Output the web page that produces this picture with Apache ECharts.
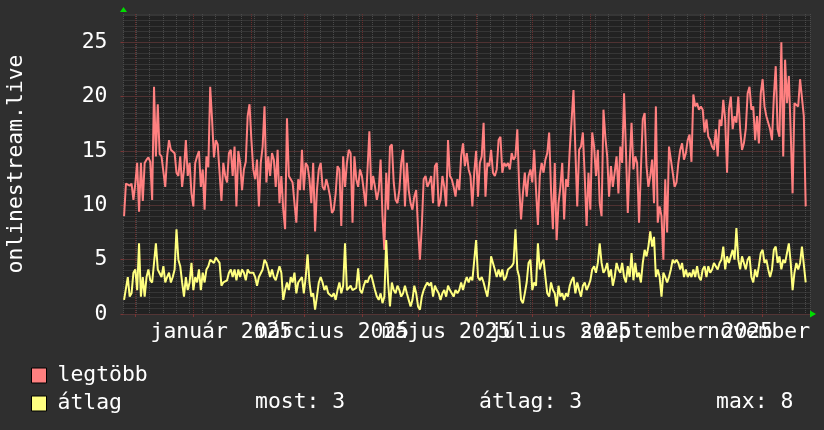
<!DOCTYPE html>
<html>
<head>
<meta charset="utf-8">
<script src="https://cdn.jsdelivr.net/npm/echarts@6/dist/echarts.min.js"></script>
<style>
html,body{margin:0;padding:0;background:#2f2f2f;}
#chart{width:824px;height:430px;}
</style>
</head>
<body>
<div id="chart"></div>
<script>
// napi értékek, 0. nap = 2024-11-25 (hétfő)
const legtobb = [
  9.0,12.0,12.0,11.8,12.0,10.5,12.0,13.9,9.4,13.9,10.4,13.9,14.2,14.4,14.0,10.5,20.9,14.5,19.3,14.7,
  14.5,14.5,11.7,14.5,16.0,15.1,15.1,14.8,13.0,12.7,14.5,11.7,13.3,16.0,12.7,13.9,11.1,
  9.9,13.9,14.5,15.0,11.7,13.3,9.6,14.5,13.5,20.9,17.9,14.4,16.0,15.6,15.7,10.4,13.9,12.7,12.1,14.8,
  15.1,12.7,15.4,9.9,15.0,13.9,11.4,13.3,14.0,18.2,19.3,16.0,13.3,12.4,14.2,9.9,13.9,15.4,19.1,12.1,
  14.5,12.7,14.8,14.2,11.7,15.1,10.2,12.7,9.6,7.8,18.0,12.7,12.4,12.1,10.2,8.4,12.4,11.4,15.1,11.4,
  13.9,13.6,12.4,10.2,13.9,7.6,11.4,13.3,13.9,11.7,11.4,12.4,11.7,10.8,9.3,9.6,11.1,13.6,13.3,8.1,
  14.5,11.7,13.9,15.1,14.8,8.4,14.5,12.4,11.7,13.3,12.7,11.4,9.9,13.3,16.8,11.4,12.7,11.7,10.5,11.4,
  14.2,9.0,5.9,13.0,9.6,15.4,15.6,12.1,10.5,10.2,11.4,13.9,15.1,9.9,13.9,11.4,10.2,9.6,10.8,11.4,
  7.8,5.0,8.1,12.4,12.7,11.7,12.1,12.7,10.2,13.6,13.9,9.9,10.5,12.7,11.7,9.9,16.0,12.7,12.4,11.7,
  10.8,12.4,11.4,14.5,15.7,13.6,
  14.8,13.3,12.7,9.9,13.0,15.0,10.8,13.9,14.5,17.6,10.8,13.9,13.6,15.1,13.0,12.7,13.3,16.0,16.3,13.0,
  13.9,13.6,13.9,13.3,14.8,14.2,14.5,17.0,11.7,8.7,11.1,13.0,10.8,12.7,13.3,12.1,15.1,11.4,8.2,12.7,
  13.9,13.0,14.2,14.8,16.7,11.4,7.8,13.9,6.8,10.2,11.7,13.9,8.7,12.4,11.7,15.1,15.1,20.6,15.1,9.9,
  15.1,15.4,16.7,12.7,8.1,13.0,9.6,16.7,15.4,12.7,15.1,10.2,9.0,18.8,16.3,14.5,10.8,13.6,11.7,13.0,
  14.5,11.1,15.4,13.9,20.3,15.1,9.3,13.9,17.6,13.3,14.5,13.9,8.4,13.3,17.9,18.5,13.6,11.7,12.7,14.2,
  10.2,19.1,8.4,9.9,9.0,5.0,12.4,7.5,15.4,14.2,13.0,11.7,12.1,13.9,15.1,15.7,14.2,14.8,16.0,16.5,
  14.0,20.2,19.1,19.4,18.8,19.1,18.8,16.7,17.9,16.3,16.0,15.4,15.1,17.0,14.5,17.9,17.3,19.7,17.9,13.0,
  18.8,20.0,17.0,18.2,17.6,20.0,17.0,15.1,15.7,17.0,20.3,20.9,18.8,19.1,16.0,18.2,15.7,20.3,21.6,19.1,
  18.2,17.6,17.0,16.0,20.0,22.8,17.0,16.3,25.0,14.5,23.4,19.4,21.9,16.7,11.1,19.4,19.4,19.1,21.6,21.6,
  18.2,9.9
];
const atlag = [
  1.3,1.3,3.4,1.6,1.9,3.8,4.1,2.2,6.5,1.6,3.4,1.6,3.4,4.1,3.1,2.9,4.7,6.5,4.1,4.1,
  3.4,4.4,2.9,3.4,3.8,2.9,3.4,4.1,7.8,5.0,4.4,2.9,1.6,3.4,2.2,2.9,4.7,
  2.2,3.4,2.9,4.1,2.2,3.8,2.9,4.1,4.4,5.0,5.0,4.7,5.2,5.1,4.7,2.6,2.9,2.9,3.1,3.8,
  4.1,3.4,4.1,3.1,4.1,3.4,4.1,3.8,3.1,4.1,3.8,3.8,3.8,3.4,2.6,3.4,3.4,4.1,5.0,4.7,
  4.1,3.4,4.1,3.4,3.1,3.1,4.4,3.8,1.3,2.2,2.9,2.2,3.4,2.9,3.8,1.9,2.9,2.9,3.4,1.9,
  3.4,5.5,2.9,1.6,1.9,0.4,1.6,2.9,3.4,2.9,2.2,2.6,1.9,1.9,1.6,1.9,1.3,2.2,2.9,1.9,
  2.6,6.5,2.2,2.2,2.6,2.2,2.2,2.4,4.2,2.2,1.9,2.6,3.1,2.9,3.4,3.6,2.9,2.2,1.6,1.3,
  1.9,1.0,1.6,6.8,2.9,0.7,2.9,2.2,1.9,2.6,2.2,1.6,1.9,2.6,1.9,1.3,0.7,1.3,2.6,1.9,
  0.7,0.4,1.6,2.2,2.6,2.9,2.6,2.9,1.6,2.6,2.2,1.9,1.3,1.9,2.2,1.6,2.6,2.2,1.9,1.6,
  2.2,1.9,2.2,2.9,2.2,2.9,
  3.4,2.9,3.4,3.1,3.1,6.8,3.4,3.1,3.4,2.9,2.2,1.6,2.9,5.3,4.7,4.1,3.4,4.1,3.4,4.1,
  3.1,3.4,4.1,4.1,4.4,4.7,7.8,4.1,3.4,1.3,1.0,1.9,2.9,4.7,5.0,2.2,2.9,2.6,6.5,4.1,
  4.7,5.0,3.4,1.9,1.6,2.9,2.2,1.9,0.7,2.6,1.6,1.9,1.3,1.9,1.6,2.6,3.1,3.4,1.9,2.9,
  2.2,1.6,2.6,2.9,2.2,2.6,3.1,4.1,4.4,3.8,4.7,6.5,4.7,3.8,4.1,4.7,3.4,4.1,2.6,3.4,
  4.7,4.1,3.8,4.7,3.4,2.9,4.4,3.4,5.6,3.1,4.7,3.4,3.8,2.9,4.7,5.9,5.3,6.2,7.6,6.2,
  7.1,3.4,4.1,3.4,1.6,3.8,3.4,2.9,3.4,4.1,5.0,4.7,5.0,4.7,4.1,4.7,3.4,4.1,3.4,3.8,
  3.4,4.1,3.4,4.4,3.4,3.1,4.1,4.4,3.4,4.4,3.8,4.1,4.7,4.4,4.1,4.7,5.0,6.2,4.1,5.3,
  4.7,5.3,5.9,5.0,7.9,5.0,4.1,5.3,4.7,4.1,5.0,5.3,3.4,2.9,4.1,3.4,4.4,5.6,5.9,4.7,
  5.0,4.1,3.4,4.1,5.9,6.2,4.7,5.3,4.1,5.0,4.7,5.6,6.5,4.7,2.2,3.8,4.7,4.1,4.7,6.2,
  6.2,2.9
];
const monthStarts = [6, 37, 68, 96, 127, 157, 188, 218, 249, 280, 310, 341];
const labelDays = [52, 111, 172, 233, 295, 356];
const labelTexts = ['január 2025', 'március 2025', 'május 2025', 'július 2025', 'szeptember 2025', 'november 2025'];
const yTicks = [0, 5, 10, 15, 20, 25];

const font = 'DejaVu Sans Mono';
const fsize = 21.4;
const xMin = -0.3, xMax = 366.3, yMax = 27.6;
const minorGrid = {color: '#4a4a4a', type: [1, 1]};
const majorGrid = {color: '#6a2e2e', type: [1, 1]};
const arrow = {show: true, onZero: false, symbol: ['none', 'triangle'], lineStyle: {color: '#00dd00', width: 0}};
const legendBase = {
  left: 31, orient: 'vertical', padding: 0, itemWidth: 15, itemHeight: 15,
  icon: 'rect', selectedMode: false,
  itemStyle: {borderColor: '#000000', borderWidth: 1},
  textStyle: {color: '#ffffff', fontFamily: font, fontSize: fsize, padding: [0, 0, 0, 6]}
};
const statFont = fsize + 'px "DejaVu Sans Mono"';

// minden hónapcímke külön tengelyen, hogy egymást ne rejtsék el
const labelAxes = labelDays.map((d, i) => ({
  type: 'value', min: xMin, max: xMax, position: 'bottom', z: 2,
  axisLine: {show: false, onZero: false}, axisTick: {show: false}, splitLine: {show: false},
  axisLabel: {
    customValues: [d], color: '#ffffff', fontFamily: font, fontSize: fsize, margin: 8,
    showMinLabel: true, showMaxLabel: true, hideOverlap: false,
    alignMinLabel: 'center', alignMaxLabel: 'center',
    formatter: () => labelTexts[i]
  }
}));

const last = atlag[atlag.length - 1];
const avg = atlag.reduce((a, b) => a + b, 0) / atlag.length;
const mx = Math.max.apply(null, atlag);

const chart = echarts.init(document.getElementById('chart'));
chart.setOption({
  backgroundColor: '#2f2f2f',
  animation: false,
  grid: {
    left: 123.5, top: 14, width: 686.5, height: 300, show: true, backgroundColor: '#222222',
    borderWidth: 0, containLabel: false, outerBoundsMode: 'none'
  },
  xAxis: [{
    type: 'value', min: xMin, max: xMax, interval: 7, position: 'bottom', z: 0,
    axisLine: Object.assign({}, arrow, {symbolSize: [7, 6], symbolOffset: [0, 3]}),
    axisTick: {show: false}, axisLabel: {show: false},
    splitLine: {show: true, lineStyle: minorGrid}
  }, {
    type: 'value', min: xMin, max: xMax, position: 'bottom', z: 1,
    axisLine: {show: false, onZero: false},
    axisTick: {show: true, customValues: monthStarts, length: 3, lineStyle: {color: '#7a3434'}},
    axisLabel: {show: false},
    splitLine: {show: true, lineStyle: majorGrid}
  }].concat(labelAxes),
  yAxis: [{
    type: 'value', min: 0, max: yMax, interval: 0.5, position: 'left', z: 0,
    axisLine: Object.assign({}, arrow, {symbolSize: [7, 5], symbolOffset: [0, 4.5]}),
    axisTick: {show: false}, axisLabel: {show: false},
    splitLine: {show: true, lineStyle: minorGrid}
  }, {
    type: 'value', min: 0, max: yMax, position: 'left', z: 1,
    axisLine: {show: false, onZero: false},
    axisTick: {show: true, customValues: yTicks, length: 3, lineStyle: {color: '#7a3434'}},
    axisLabel: {customValues: yTicks, color: '#ffffff', fontFamily: font, fontSize: fsize, margin: 16},
    splitLine: {show: true, lineStyle: majorGrid},
    name: 'onlinestream.live', nameLocation: 'middle', nameGap: 97, nameRotate: 90,
    nameTextStyle: {color: '#ffffff', fontFamily: font, fontSize: fsize}
  }],
  legend: [
    Object.assign({}, legendBase, {top: 365, data: ['legtöbb']}),
    Object.assign({}, legendBase, {top: 393, data: ['átlag']})
  ],
  graphic: [
    {type: 'text', x: 255, y: 402, style: {text: 'most: ' + Math.round(last), fill: '#ffffff', font: statFont, verticalAlign: 'middle'}},
    {type: 'text', x: 479, y: 402, style: {text: 'átlag: ' + Math.round(avg), fill: '#ffffff', font: statFont, verticalAlign: 'middle'}},
    {type: 'text', x: 716, y: 402, style: {text: 'max: ' + Math.round(mx), fill: '#ffffff', font: statFont, verticalAlign: 'middle'}}
  ],
  series: [{
    name: 'legtöbb', type: 'line', xAxisIndex: 0, yAxisIndex: 0, z: 3, silent: true,
    data: legtobb.map((v, i) => [i, v]), showSymbol: false,
    lineStyle: {color: '#ff8080', width: 2}, itemStyle: {color: '#ff8080'}
  }, {
    name: 'átlag', type: 'line', xAxisIndex: 0, yAxisIndex: 0, z: 3, silent: true,
    data: atlag.map((v, i) => [i, v]), showSymbol: false,
    lineStyle: {color: '#ffff80', width: 2}, itemStyle: {color: '#ffff80'}
  }]
});
</script>
</body>
</html>
